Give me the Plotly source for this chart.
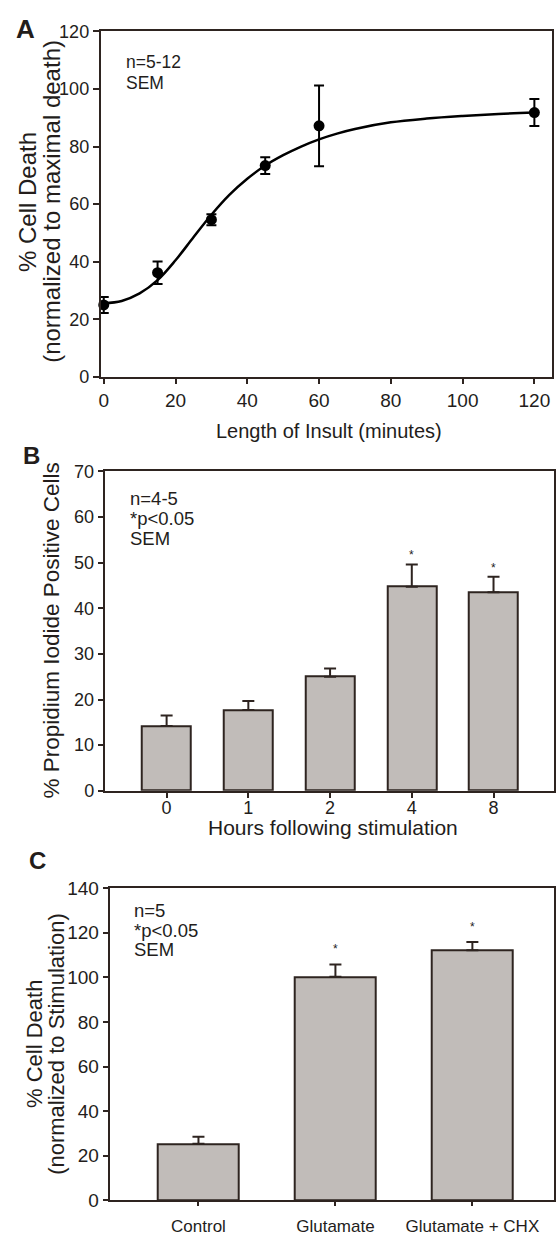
import plotly.graph_objects as go

W, H = 556, 1237
FONT = "Liberation Sans, Arial, sans-serif"
INK = "#231d1b"
AXIS = "#2e2420"
BAR_FILL = "#c1bcb9"

# ---- Panel A: cell death vs. length of insult ----
insult_min = [0, 15, 30, 45, 60, 120]
death_pct = [25.0, 36.2, 54.6, 73.4, 87.2, 91.8]
death_sem = [2.8, 3.9, 1.9, 2.9, 14.0, 4.7]

# fitted sigmoid, sampled along the x axis
fit_x = [0, 5, 10, 15, 20, 25, 30, 35, 40, 45, 50, 55, 60, 65, 70, 80, 90, 100, 110, 120]
fit_y = [25.6, 26.4, 29.0, 33.6, 40.5, 48.5, 56.3, 63.2, 68.8, 73.4, 77.0, 80.0,
         82.5, 84.5, 86.1, 88.4, 89.7, 90.6, 91.3, 91.8]

# ---- Panel B: propidium iodide positive cells ----
hours = ["0", "1", "2", "4", "8"]
pi_pct = [14.2, 17.7, 25.0, 44.7, 43.5]
pi_sem = [2.3, 2.0, 1.8, 4.9, 3.4]
pi_sig = [False, False, False, True, True]

# ---- Panel C: cycloheximide treatment ----
treatments = ["Control", "Glutamate", "Glutamate + CHX"]
chx_pct = [25.4, 100.3, 112.1]
chx_sem = [3.2, 5.5, 3.7]
chx_sig = [False, True, True]


def px(x):
    return x / W


def py(y):
    return 1 - y / H


fig = go.Figure()

fig.add_trace(go.Scatter(
    x=fit_x, y=fit_y, mode="lines",
    line=dict(color="black", width=2.5, shape="spline", smoothing=1.0),
    xaxis="x", yaxis="y", hoverinfo="skip", showlegend=False))
fig.add_trace(go.Scatter(
    x=insult_min, y=death_pct, mode="markers",
    marker=dict(color="black", size=11),
    error_y=dict(type="data", array=death_sem, visible=True, color="black",
                 thickness=2, width=5),
    xaxis="x", yaxis="y", cliponaxis=False, showlegend=False))

fig.add_trace(go.Bar(
    x=hours, y=pi_pct, width=0.6,
    marker=dict(color=BAR_FILL, line=dict(color=AXIS, width=2)),
    error_y=dict(type="data", symmetric=False, array=pi_sem, arrayminus=[0] * len(pi_sem),
                 visible=True, color=AXIS, thickness=2, width=6),
    xaxis="x2", yaxis="y2", showlegend=False))

fig.add_trace(go.Bar(
    x=treatments, y=chx_pct, width=0.595,
    marker=dict(color=BAR_FILL, line=dict(color=AXIS, width=2)),
    error_y=dict(type="data", symmetric=False, array=chx_sem, arrayminus=[0] * len(chx_sem),
                 visible=True, color=AXIS, thickness=2, width=6),
    xaxis="x3", yaxis="y3", showlegend=False))

axis_common = dict(showline=True, linewidth=2, linecolor=AXIS, mirror=True,
                   showgrid=False, zeroline=False, ticks="outside",
                   tickwidth=2, tickcolor=AXIS)

fig.update_layout(
    width=W, height=H, autosize=False,
    margin=dict(l=0, r=0, t=0, b=0),
    paper_bgcolor="white", plot_bgcolor="white",
    font=dict(family=FONT, color=INK),
    bargap=0,
    xaxis=dict(domain=[px(99.3), px(553.3)], anchor="y", range=[-0.83, 125],
               tickvals=[0, 20, 40, 60, 80, 100, 120], ticklen=5,
               tickfont=dict(size=19), **axis_common),
    yaxis=dict(domain=[py(373.3), py(21.7)], anchor="x", range=[0, 120],
               tickvals=[0, 20, 40, 60, 80, 100, 120], ticklen=6,
               tickfont=dict(size=18), **axis_common),
    xaxis2=dict(domain=[px(103.3), px(555)], anchor="y2", type="category",
                range=[-0.757, 4.74], ticklen=5, ticklabelstandoff=-5,
                tickfont=dict(size=18), **axis_common),
    yaxis2=dict(domain=[py(794.3), py(469.3)], anchor="x2", range=[0, 70],
                dtick=10, ticklen=5, tickfont=dict(size=18), **axis_common),
    xaxis3=dict(domain=[px(108.3), px(555)], anchor="y3", type="category",
                range=[-0.648, 2.596], ticklen=4, ticklabelstandoff=5,
                tickfont=dict(size=17), **axis_common),
    yaxis3=dict(domain=[py(1211), py(893.3)], anchor="x3", range=[0, 140],
                dtick=20, ticklen=5, tickfont=dict(size=19), **axis_common),
)

annotations = []


def note(x, y, text, size, xanchor="center", angle=0, bold=False):
    annotations.append(dict(
        xref="paper", yref="paper", x=px(x), y=py(y), text=f"<b>{text}</b>" if bold else text,
        showarrow=False, xanchor=xanchor, yanchor="middle", textangle=angle, borderpad=0,
        font=dict(size=size, family=FONT, color=INK)))


# panel letters
note(24, 19, "A", 26, bold=True)
note(30, 453, "B", 24, bold=True)
note(35.5, 865, "C", 24, bold=True)

# axis titles
note(25.5, 195, "% Cell Death", 24, angle=-90)
note(50.4, 195, "(normalized to maximal death)", 24, angle=-90)
note(329, 428, "Length of Insult (minutes)", 20)

note(49.6, 631, "% Propidium Iodide Positive Cells", 22.5, angle=-90)
note(332.7, 832, "Hours following stimulation", 21)

note(32, 1052, "% Cell Death", 22, angle=-90)
note(54, 1052, "(normalized to Stimulation)", 22, angle=-90)

# in-plot notes
note(123.3, 53.3, "n=5-12", 17.5, xanchor="left")
note(123.3, 74, "SEM", 17.5, xanchor="left")

note(127.7, 497.1, "n=4-5", 18.5, xanchor="left")
note(127.7, 517.3, "*p<0.05", 18.5, xanchor="left")
note(127.7, 537.5, "SEM", 18.5, xanchor="left")

note(131.7, 915.8, "n=5", 18.5, xanchor="left")
note(131.7, 936, "*p<0.05", 18.5, xanchor="left")
note(131.7, 956.2, "SEM", 18.5, xanchor="left")

# significance marks above the error bars (category axes take the bar index)
for i, (v, e, s) in enumerate(zip(pi_pct, pi_sem, pi_sig)):
    if s:
        annotations.append(dict(xref="x2", yref="y2", x=i, y=v + e, text="*",
                                showarrow=False, yanchor="bottom", yshift=0,
                                font=dict(size=12, family=FONT, color=INK)))
for i, (v, e, s) in enumerate(zip(chx_pct, chx_sem, chx_sig)):
    if s:
        annotations.append(dict(xref="x3", yref="y3", x=i, y=v + e, text="*",
                                showarrow=False, yanchor="bottom", yshift=6,
                                font=dict(size=12, family=FONT, color=INK)))

fig.update_layout(annotations=annotations)

fig.write_html("out.html")
